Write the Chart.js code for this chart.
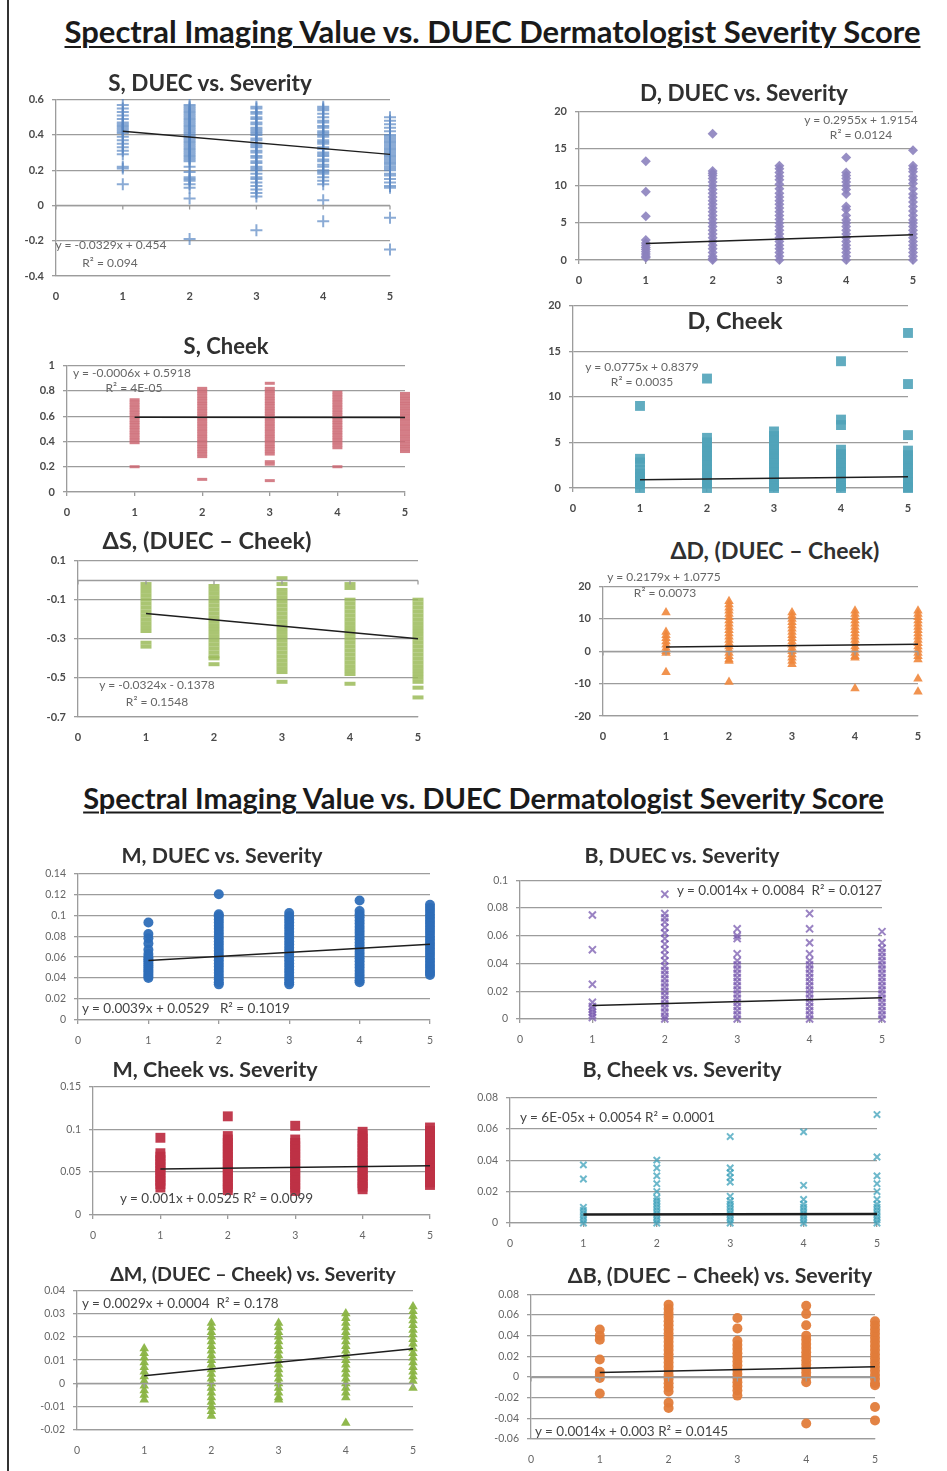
<!DOCTYPE html>
<html><head><meta charset="utf-8">
<script src="https://cdn.jsdelivr.net/npm/chart.js@4/dist/chart.umd.min.js"></script>
<style>
html,body{margin:0;padding:0;background:#fff;}
#page{position:relative;width:947px;height:1471px;overflow:hidden;background:#fff;font-family:Lato,"Open Sans",sans-serif;}
.mt{position:absolute;width:947px;text-align:center;font-weight:bold;text-decoration:underline;text-decoration-thickness:2px;text-underline-offset:3px;color:#1a1a1a;transform:translateY(-50%);white-space:nowrap;}
.ct{position:absolute;font-weight:bold;color:#303030;white-space:nowrap;transform:translate(-50%,-50%);}
.eq{position:absolute;color:#555;white-space:pre;transform:translateY(-50%);}
.eqc{position:absolute;color:#666;white-space:pre;transform:translate(-50%,-50%);}
canvas{position:absolute;}
.bl{position:absolute;background:#333;}
</style></head>
<body><div id="page">
<div class="bl" style="left:7px;top:0;width:2px;height:1471px;"></div>
<div class="mt" style="left:19px;top:31px;font-size:31px;">Spectral Imaging Value vs. DUEC Dermatologist Severity Score</div>
<div class="mt" style="left:10px;top:797px;font-size:29px;">Spectral Imaging Value vs. DUEC Dermatologist Severity Score</div>
</div>
<script>
// ---- data ----
const severity = [1, 2, 3, 4, 5];

const sDuec = [
  [0.57,0.55,0.53,0.51,0.49,0.47,0.46,0.45,0.44,0.43,0.42,0.41,0.39,0.37,0.35,0.33,0.31,0.29,0.22,0.21,0.12],
  [0.57,0.56,0.55,0.54,0.53,0.52,0.51,0.5,0.49,0.48,0.47,0.46,0.45,0.44,0.43,0.42,0.41,0.4,0.39,0.38,0.37,0.36,0.35,0.34,0.33,0.32,0.31,0.3,0.29,0.28,0.27,0.26,0.25,0.22,0.19,0.16,0.15,0.14,0.12,0.1,0.04,-0.19],
  [0.56,0.55,0.53,0.52,0.5,0.49,0.47,0.46,0.44,0.43,0.42,0.41,0.4,0.38,0.37,0.35,0.34,0.33,0.31,0.3,0.28,0.27,0.25,0.24,0.22,0.21,0.2,0.18,0.16,0.15,0.13,0.11,0.09,0.07,0.05,-0.14],
  [0.56,0.55,0.54,0.52,0.5,0.48,0.47,0.45,0.44,0.42,0.41,0.4,0.39,0.37,0.36,0.35,0.33,0.32,0.3,0.29,0.28,0.26,0.25,0.23,0.22,0.2,0.19,0.18,0.16,0.14,0.12,0.03,-0.09],
  [0.5,0.48,0.46,0.44,0.42,0.4,0.39,0.38,0.37,0.36,0.35,0.34,0.33,0.32,0.31,0.3,0.29,0.28,0.27,0.26,0.25,0.24,0.23,0.22,0.21,0.2,0.18,0.17,0.15,0.13,0.11,0.1,-0.07,-0.25]
];
const sDuecFit = [-0.0329, 0.454];
const sDuecEq = ['y = -0.0329x + 0.454', 'R² = 0.094'];

const dDuec = [
  [13.3,9.2,5.9,2.7,2.3,2,1.7,1.4,1.1,0.8,0.5,0.3],
  [17,12,11.7,11.4,11,10.5,10,9.5,9,8.5,8,7.5,7,6.5,6,5.5,5,4.5,4,3.5,3,2.5,2,1.5,1,0.5,0.2,0],
  [12.7,12.3,11.8,11.3,10.8,10.2,9.6,9,8.5,8,7.5,7,6.5,6,5.5,5,4.5,4,3.5,3,2.5,2,1.5,1,0.5,0],
  [13.8,11.8,11.4,11,10.5,10,9.5,8.9,7.2,6.8,6,5.4,5,4.5,4,3.5,3,2.5,2,1.5,1,0.5,0],
  [14.8,12.7,12.3,11.9,11.3,10.8,10.3,9.6,8.9,8.4,7.8,7.2,6.6,6,5.4,5,4.5,4,3.5,3,2.5,2,1.5,1,0.5,0]
];
const dDuecFit = [0.2955, 1.9154];
const dDuecEq = ['y = 0.2955x + 1.9154', 'R² = 0.0124'];

const sCheek = [
  [0.73,0.71,0.69,0.67,0.65,0.63,0.61,0.59,0.57,0.55,0.53,0.51,0.49,0.47,0.45,0.43,0.41,0.39,0.2],
  [0.82,0.8,0.78,0.76,0.74,0.72,0.7,0.68,0.66,0.64,0.62,0.6,0.58,0.56,0.54,0.52,0.5,0.48,0.46,0.44,0.42,0.4,0.38,0.36,0.34,0.32,0.3,0.28,0.1],
  [0.86,0.82,0.8,0.78,0.76,0.74,0.72,0.7,0.68,0.66,0.64,0.62,0.6,0.58,0.56,0.54,0.52,0.5,0.48,0.46,0.44,0.42,0.4,0.38,0.36,0.34,0.32,0.3,0.24,0.22,0.09],
  [0.79,0.77,0.75,0.73,0.71,0.69,0.67,0.65,0.63,0.61,0.59,0.57,0.55,0.53,0.51,0.49,0.47,0.45,0.43,0.41,0.39,0.37,0.35,0.2],
  [0.78,0.76,0.74,0.72,0.7,0.68,0.66,0.64,0.62,0.6,0.58,0.56,0.54,0.52,0.5,0.48,0.46,0.44,0.42,0.4,0.38,0.36,0.34,0.32]
];
const sCheekFit = [-0.0006, 0.5918];
const sCheekEq = ['y = -0.0006x + 0.5918', 'R² = 4E-05'];

const dCheek = [
  [9,3.2,2.8,2,1.6,1.2,0.8,0.4,0],
  [12,5.5,5,4.5,4,3.5,3,2.5,2,1.5,1,0.5,0],
  [6.2,5.7,5.2,4.7,4.2,3.7,3.2,2.7,2.2,1.7,1.2,0.7,0.2,0],
  [13.9,7.5,6.9,4.2,3.7,3.2,2.7,2.2,1.7,1.2,0.7,0.2,0],
  [17,11.4,5.8,4.1,3.6,3.1,2.6,2.1,1.6,1.1,0.6,0.1,0]
];
const dCheekFit = [0.0775, 0.8379];
const dCheekEq = ['y = 0.0775x + 0.8379', 'R² = 0.0035'];

const deltaS = [
  [-0.02,-0.04,-0.06,-0.08,-0.1,-0.12,-0.14,-0.16,-0.18,-0.2,-0.22,-0.24,-0.26,-0.32,-0.34],
  [-0.03,-0.05,-0.07,-0.09,-0.11,-0.13,-0.15,-0.17,-0.19,-0.21,-0.23,-0.25,-0.27,-0.29,-0.31,-0.33,-0.35,-0.37,-0.39,-0.4,-0.43],
  [0.01,-0.02,-0.05,-0.07,-0.09,-0.11,-0.13,-0.15,-0.17,-0.19,-0.21,-0.23,-0.25,-0.27,-0.29,-0.31,-0.33,-0.35,-0.37,-0.39,-0.41,-0.43,-0.45,-0.47,-0.52],
  [-0.02,-0.04,-0.1,-0.12,-0.14,-0.16,-0.18,-0.2,-0.22,-0.24,-0.26,-0.28,-0.3,-0.32,-0.34,-0.36,-0.38,-0.4,-0.42,-0.44,-0.46,-0.48,-0.53],
  [-0.1,-0.12,-0.14,-0.16,-0.18,-0.2,-0.22,-0.24,-0.26,-0.28,-0.3,-0.32,-0.34,-0.36,-0.38,-0.4,-0.42,-0.44,-0.46,-0.48,-0.5,-0.52,-0.55,-0.6]
];
const deltaSFit = [-0.0324, -0.1378];
const deltaSEq = ['y = -0.0324x - 0.1378', 'R² = 0.1548'];

const deltaD = [
  [12,6,5,4,3,2,1,0,-0.5,-6.5],
  [15.5,14.5,13.5,12.5,11.5,10.5,9.5,8.5,7.5,6.5,5.5,4.5,3.5,2.5,1.5,0.5,-0.5,-1.5,-2.5,-3,-9.5],
  [12,11,10,9,8,7,6,5,4,3,2,1,0,-1,-2,-3,-4],
  [12.5,11.5,10.5,9.5,8.5,7.5,6.5,5.5,4.5,3.5,2.5,1.5,0.5,-0.5,-1.5,-2,-11.5],
  [12.5,11.5,10.5,9.5,8.5,7.5,6.5,5.5,4.5,3.5,2.5,1.5,0.5,-0.5,-1.5,-2.5,-8.5,-12.5]
];
const deltaDFit = [0.2179, 1.0775];
const deltaDEq = ['y = 0.2179x + 1.0775', 'R² = 0.0073'];

const mDuec = [
  [0.093,0.082,0.078,0.073,0.067,0.063,0.06,0.058,0.056,0.054,0.052,0.05,0.048,0.046,0.044,0.042,0.04],
  [0.12,0.101,0.099,0.096,0.093,0.09,0.087,0.084,0.081,0.078,0.075,0.072,0.069,0.066,0.063,0.06,0.057,0.054,0.051,0.048,0.045,0.042,0.039,0.036,0.034],
  [0.102,0.099,0.096,0.093,0.09,0.087,0.084,0.081,0.078,0.075,0.072,0.069,0.066,0.063,0.06,0.057,0.054,0.051,0.048,0.045,0.042,0.039,0.036,0.034],
  [0.114,0.104,0.101,0.098,0.095,0.092,0.089,0.086,0.083,0.08,0.077,0.074,0.071,0.068,0.065,0.062,0.059,0.056,0.053,0.05,0.047,0.044,0.041,0.038,0.036],
  [0.11,0.107,0.104,0.101,0.098,0.095,0.092,0.089,0.086,0.083,0.08,0.077,0.074,0.071,0.068,0.065,0.062,0.059,0.056,0.053,0.05,0.047,0.045,0.043]
];
const mDuecFit = [0.0039, 0.0529];
const mDuecEq = ['y = 0.0039x + 0.0529   R² = 0.1019'];

const bDuec = [
  [0.075,0.05,0.025,0.012,0.009,0.007,0.005,0.003,0.001],
  [0.09,0.076,0.073,0.07,0.066,0.062,0.058,0.054,0.05,0.046,0.042,0.038,0.035,0.032,0.029,0.026,0.023,0.02,0.017,0.014,0.011,0.008,0.005,0.002,0],
  [0.065,0.06,0.058,0.047,0.042,0.039,0.036,0.033,0.03,0.027,0.024,0.021,0.018,0.015,0.012,0.009,0.006,0.003,0],
  [0.076,0.065,0.055,0.047,0.042,0.039,0.036,0.033,0.03,0.027,0.024,0.021,0.018,0.015,0.012,0.009,0.006,0.003,0],
  [0.063,0.055,0.051,0.048,0.045,0.042,0.039,0.036,0.033,0.03,0.027,0.024,0.021,0.018,0.015,0.012,0.009,0.006,0.003,0]
];
const bDuecFit = [0.0014, 0.0084];
const bDuecEq = ['y = 0.0014x + 0.0084  R² = 0.0127'];

const mCheek = [
  [0.09,0.072,0.068,0.064,0.06,0.056,0.052,0.048,0.044,0.04,0.036,0.032],
  [0.115,0.092,0.088,0.084,0.08,0.076,0.072,0.068,0.064,0.06,0.056,0.052,0.048,0.044,0.04,0.036,0.032,0.029],
  [0.104,0.088,0.084,0.08,0.076,0.072,0.068,0.064,0.06,0.056,0.052,0.048,0.044,0.04,0.036,0.032,0.028],
  [0.097,0.093,0.089,0.085,0.081,0.077,0.073,0.069,0.065,0.061,0.057,0.053,0.049,0.045,0.041,0.037,0.033,0.03],
  [0.102,0.098,0.094,0.09,0.086,0.082,0.078,0.074,0.07,0.066,0.062,0.058,0.054,0.05,0.046,0.042,0.038,0.035]
];
const mCheekFit = [0.001, 0.0525];
const mCheekEq = ['y = 0.001x + 0.0525 R² = 0.0099'];

const bCheek = [
  [0.037,0.028,0.01,0.008,0.006,0.004,0.002,0],
  [0.04,0.035,0.03,0.025,0.02,0.016,0.014,0.012,0.01,0.008,0.006,0.004,0.002,0],
  [0.055,0.035,0.032,0.029,0.026,0.017,0.014,0.012,0.01,0.008,0.006,0.004,0.002,0],
  [0.058,0.024,0.015,0.012,0.01,0.008,0.006,0.004,0.002,0],
  [0.069,0.042,0.03,0.025,0.02,0.015,0.012,0.01,0.008,0.006,0.004,0.002,0]
];
const bCheekFit = [0.00006, 0.0054];
const bCheekEq = ['y = 6E-05x + 0.0054 R² = 0.0001'];

const deltaM = [
  [0.015,0.013,0.011,0.009,0.007,0.005,0.003,0.001,-0.001,-0.003,-0.005,-0.007],
  [0.026,0.024,0.022,0.02,0.018,0.016,0.014,0.012,0.01,0.008,0.006,0.004,0.002,0,-0.002,-0.004,-0.006,-0.008,-0.01,-0.012,-0.014],
  [0.026,0.024,0.022,0.02,0.018,0.016,0.014,0.012,0.01,0.008,0.006,0.004,0.002,0,-0.002,-0.004,-0.006,-0.007],
  [0.03,0.028,0.026,0.024,0.022,0.02,0.018,0.016,0.014,0.012,0.01,0.008,0.006,0.004,0.002,0,-0.002,-0.004,-0.006,-0.017],
  [0.033,0.031,0.029,0.027,0.025,0.023,0.021,0.019,0.017,0.015,0.013,0.011,0.009,0.007,0.005,0.003,0.001,-0.002]
];
const deltaMFit = [0.0029, 0.0004];
const deltaMEq = ['y = 0.0029x + 0.0004  R² = 0.178'];

const deltaB = [
  [0.046,0.04,0.036,0.017,0.005,0.002,-0.001,-0.016],
  [0.07,0.066,0.062,0.058,0.054,0.05,0.046,0.042,0.038,0.034,0.03,0.026,0.022,0.018,0.014,0.01,0.006,0.002,-0.002,-0.006,-0.01,-0.014,-0.025,-0.03],
  [0.057,0.047,0.035,0.031,0.027,0.023,0.019,0.015,0.011,0.007,0.003,-0.001,-0.005,-0.009,-0.013,-0.018],
  [0.069,0.061,0.05,0.04,0.036,0.032,0.028,0.024,0.02,0.016,0.012,0.008,0.004,0,-0.005,-0.045],
  [0.054,0.05,0.046,0.042,0.038,0.034,0.03,0.026,0.022,0.018,0.014,0.01,0.006,0.002,-0.002,-0.006,-0.008,-0.029,-0.042]
];
const deltaBFit = [0.0014, 0.003];
const deltaBEq = ['y = 0.0014x + 0.003 R² = 0.0145'];

const xTicks = [0, 1, 2, 3, 4, 5];

// ---- layout & styles (kept separate from data) ----
const panels = [
  {vals:sDuec, fit:sDuecFit, eq:sDuecEq, title:'S, DUEC vs. Severity', x0:56,x5:390,yTop:95,yBot:276, min:-0.4,max:0.6,step:0.2,
   tx:210,ty:82,tf:22.5, eqPos:[[111,244],[110,262]], eqf:12, ps:'cross', r:6, bw:2, col:'rgba(90,135,195,0.7)', fill:false, top:true},
  {vals:dDuec, fit:dDuecFit, eq:dDuecEq, title:'D, DUEC vs. Severity', x0:579,x5:913,yTop:107,yBot:260, min:0,max:20,step:5,
   tx:744,ty:92,tf:22.5, eqPos:[[861,119],[861,134]], eqf:12, ps:'rectRot', r:5, bw:0, col:'rgba(140,130,190,0.9)', fill:true, top:true},
  {vals:sCheek, fit:sCheekFit, eq:sCheekEq, title:'S, Cheek', x0:67,x5:405,yTop:361,yBot:492, min:0,max:1,step:0.2,
   tx:226,ty:345,tf:22, eqPos:[[132,372],[134,387]], eqf:12, ps:'line', r:5, bw:3, col:'rgba(205,105,115,0.85)', fill:false, top:true},
  {vals:dCheek, fit:dCheekFit, eq:dCheekEq, title:'D, Cheek', x0:573,x5:908,yTop:301,yBot:488, min:0,max:20,step:5,
   tx:735,ty:320,tf:23.5, eqPos:[[642,366],[642,381]], eqf:12, ps:'rect', r:7, bw:0, col:'rgba(80,163,185,0.9)', fill:true, top:true},
  {vals:deltaS, fit:deltaSFit, eq:deltaSEq, title:'ΔS, (DUEC – Cheek)', x0:78,x5:418,yTop:556,yBot:717, min:-0.7,max:0.1,step:0.2,
   tx:207,ty:540,tf:23.5, eqPos:[[157,684],[157,701]], eqf:12, ps:'line', r:5.5, bw:4, col:'rgba(155,187,89,0.85)', fill:false, top:true},
  {vals:deltaD, fit:deltaDFit, eq:deltaDEq, title:'ΔD, (DUEC – Cheek)', x0:603,x5:918,yTop:582,yBot:716, min:-20,max:20,step:10,
   tx:775,ty:550,tf:23, eqPos:[[664,576],[665,592]], eqf:12, ps:'triangle', r:5.5, bw:0, col:'rgba(240,135,60,0.9)', fill:true, top:true},
  {vals:mDuec, fit:mDuecFit, eq:mDuecEq, title:'M, DUEC vs. Severity', x0:78,x5:430,yTop:869,yBot:1020, min:0,max:0.14,step:0.02,
   tx:222,ty:855,tf:21.3, eqPos:[[82,1008]], eqf:13.5, ps:'circle', r:5, bw:0, col:'rgba(46,110,184,0.95)', fill:true, top:false},
  {vals:bDuec, fit:bDuecFit, eq:bDuecEq, title:'B, DUEC vs. Severity', x0:520,x5:882,yTop:876,yBot:1019, min:0,max:0.1,step:0.02,
   tx:682,ty:855,tf:21.3, eqPos:[[677,890]], eqf:13.5, ps:'crossRot', r:5, bw:2, col:'rgba(120,90,175,0.75)', fill:false, top:false},
  {vals:mCheek, fit:mCheekFit, eq:mCheekEq, title:'M, Cheek vs. Severity', x0:93,x5:430,yTop:1082,yBot:1215, min:0,max:0.15,step:0.05,
   tx:215,ty:1069,tf:21.5, eqPos:[[120,1198]], eqf:13.5, ps:'rect', r:7, bw:0, col:'rgba(190,50,70,0.95)', fill:true, top:false},
  {vals:bCheek, fit:bCheekFit, eq:bCheekEq, title:'B, Cheek vs. Severity', x0:510,x5:877,yTop:1093,yBot:1223, min:0,max:0.08,step:0.02,
   tx:682,ty:1069,tf:21.5, eqPos:[[520,1117]], eqf:13.5, ps:'crossRot', r:4.5, bw:2, col:'rgba(60,160,185,0.75)', fill:false, top:false},
  {vals:deltaM, fit:deltaMFit, eq:deltaMEq, title:'ΔM, (DUEC – Cheek) vs. Severity', x0:77,x5:413,yTop:1286,yBot:1430, min:-0.02,max:0.04,step:0.01,
   tx:253,ty:1273,tf:19.6, eqPos:[[82,1303]], eqf:13.5, ps:'triangle', r:5.5, bw:0, col:'rgba(138,180,67,0.95)', fill:true, top:false},
  {vals:deltaB, fit:deltaBFit, eq:deltaBEq, title:'ΔB, (DUEC – Cheek) vs. Severity', x0:531,x5:875,yTop:1290,yBot:1439, min:-0.06,max:0.08,step:0.02,
   tx:720,ty:1275,tf:21.3, eqPos:[[535,1431]], eqf:13.5, ps:'circle', r:5, bw:0, col:'rgba(226,124,58,0.95)', fill:true, top:false}
];

const page = document.getElementById('page');
const GRID = '#9c9c9c';

const zeroLine = {
  id: 'zeroLine',
  afterDatasetsDraw(chart) {
    const y = chart.scales.y, x = chart.scales.x;
    if (!(y.min < 0 && y.max > 0)) return;
    const py = Math.round(y.getPixelForValue(0)) + 0.5;
    const ctx = chart.ctx;
    ctx.save();
    ctx.strokeStyle = GRID; ctx.lineWidth = 1.3;
    ctx.beginPath();
    ctx.moveTo(chart.chartArea.left, py); ctx.lineTo(chart.chartArea.right, py);
    xTicks.forEach(v => { const px = x.getPixelForValue(v); ctx.moveTo(px, py); ctx.lineTo(px, py + 4); });
    ctx.stroke();
    ctx.restore();
  }
};

function fmt(v) { return String(+(+v).toFixed(4)); }

panels.forEach(p => {
  const yAxisW = 46, rightPad = 14, topPad = 10, xAxisH = 30;
  const cw = p.x5 - p.x0 + yAxisW + rightPad;
  const ch = p.yBot - p.yTop + topPad + xAxisH;
  const cv = document.createElement('canvas');
  cv.width = cw; cv.height = ch;
  cv.style.left = (p.x0 - yAxisW) + 'px';
  cv.style.top = (p.yTop - topPad) + 'px';
  cv.style.width = cw + 'px'; cv.style.height = ch + 'px';
  page.appendChild(cv);

  const pts = [];
  p.vals.forEach((col, i) => col.forEach(v => pts.push({x: severity[i], y: v})));
  const trend = [1, 5].map(xv => ({x: xv, y: p.fit[0] * xv + p.fit[1]}));
  const tickFont = p.top ? {family: 'Lato, "Open Sans", sans-serif', size: 11, weight: 'bold'} : {family: 'Lato, "Open Sans", sans-serif', size: 10.5};
  const tickColor = p.top ? '#4a4a4a' : '#666';

  new Chart(cv, {
    type: 'scatter',
    data: {
      datasets: [
        {data: pts, pointStyle: p.ps, pointRadius: p.r, pointHoverRadius: p.r, clip: false,
         borderColor: p.col, backgroundColor: p.fill ? p.col : 'transparent', borderWidth: p.bw || 0.01, order: 1},
        {type: 'line', data: trend, showLine: true, clip: false, borderColor: '#1e1e1e',
         borderWidth: p.title.startsWith('B, Cheek') ? 2.5 : 1.5,
         pointRadius: 0, fill: false, order: 0}
      ]
    },
    options: {
      responsive: false, animation: false, devicePixelRatio: 1,
      layout: {padding: {left: 0, right: rightPad, top: topPad, bottom: 0}},
      plugins: {legend: {display: false}, tooltip: {enabled: false}},
      events: [],
      scales: {
        x: {type: 'linear', min: 0, max: 5,
            afterFit(s) { s.height = xAxisH; },
            afterBuildTicks(s) { s.ticks = xTicks.map(v => ({value: v})); },
            ticks: {font: tickFont, color: tickColor, padding: 10, maxRotation: 0, callback: v => fmt(v)},
            grid: {drawOnChartArea: false, drawTicks: true, tickLength: 4, color: GRID,
                   tickColor: p.min < 0 ? 'rgba(0,0,0,0)' : GRID, lineWidth: 1.3},
            border: {display: true, color: GRID, width: 1.3}},
        y: {type: 'linear', min: p.min, max: p.max,
            afterFit(s) { s.width = yAxisW; },
            ticks: {stepSize: p.step, font: tickFont, color: tickColor, padding: 8, callback: v => fmt(v)},
            grid: {color: GRID, lineWidth: 1.3, drawTicks: true, tickLength: 4},
            border: {display: true, color: GRID, width: 1.3}}
      }
    },
    plugins: [zeroLine]
  });

  const t = document.createElement('div');
  t.className = 'ct'; t.textContent = p.title;
  t.style.left = p.tx + 'px'; t.style.top = p.ty + 'px'; t.style.fontSize = p.tf + 'px';
  page.appendChild(t);

  p.eq.forEach((line, k) => {
    const d = document.createElement('div');
    d.className = p.eq.length > 1 ? 'eqc' : 'eq';
    d.textContent = line;
    d.style.left = p.eqPos[k][0] + 'px'; d.style.top = p.eqPos[k][1] + 'px';
    d.style.fontSize = p.eqf + 'px';
    if (!p.top) d.style.color = '#444';
    page.appendChild(d);
  });
});
</script>
</body></html>
